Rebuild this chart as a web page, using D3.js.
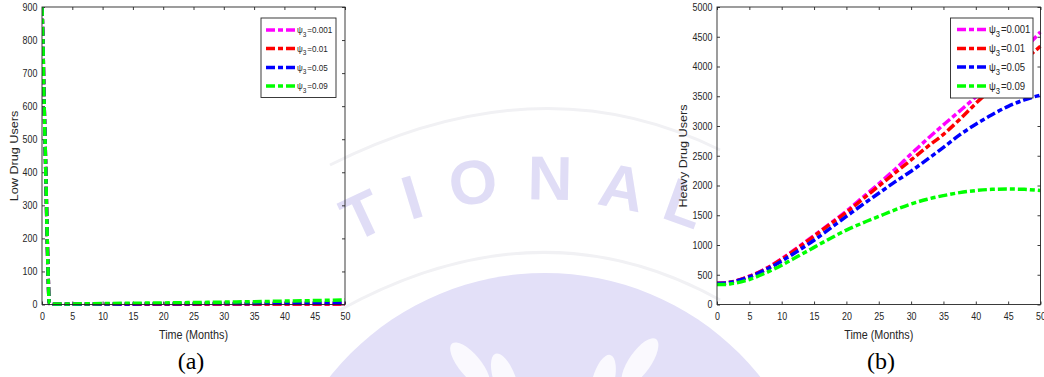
<!DOCTYPE html>
<html>
<head>
<meta charset="utf-8">
<script src="https://cdn.jsdelivr.net/npm/d3@7"></script>
<style>
  html, body { margin: 0; padding: 0; background: #ffffff; }
  svg { display: block; }
</style>
</head>
<body>
<svg id="fig" width="1044" height="377"></svg>
<script>
// ---- series values -------------------------------------------------------
const legendLabels = ["0.001", "0.01", "0.05", "0.09"];
const seriesColors = ["#ff00ff", "#ff0000", "#0000ff", "#00ff00"];

// (a) low drug users
const timeLow = [0, 0.15, 0.3, 0.5, 0.65, 0.8, 1.0, 1.2, 2, 5, 10, 15, 20, 25, 30, 35, 40, 45, 50];
const lowPsi0001 = [900, 800, 650, 500, 380, 250, 100, 3, 0.5, 0.5, 0.5, 0.5, 0.5, 0.5, 0.5, 0.6, 0.6, 0.7, 0.8];
const lowPsi001  = [900, 800, 650, 500, 380, 250, 100, 3, 0.6, 0.7, 0.8, 0.9, 1.0, 1.1, 1.2, 1.3, 1.4, 1.5, 1.6];
const lowPsi005  = [900, 800, 650, 500, 380, 250, 100, 3, 0.8, 1.0, 1.4, 1.8, 2.2, 2.6, 3.0, 3.4, 3.9, 4.4, 5.0];
const lowPsi009  = [900, 800, 650, 500, 380, 250, 100, 3.5, 1.2, 1.8, 2.8, 3.8, 4.8, 5.9, 7.2, 8.6, 10.2, 12, 14];

// (b) heavy drug users
const timeHeavy = [0, 1, 2, 5, 7.5, 10, 12.5, 15, 17.5, 20, 22.5, 25, 27.5, 30, 32.5, 35, 37.5, 40, 42.5, 45, 47.5, 50];
const heavyPsi0001 = [358, 360, 375, 475, 600, 770, 960, 1160, 1360, 1570, 1800, 2030, 2270, 2530, 2780, 3020, 3250, 3490, 3760, 4030, 4300, 4580];
const heavyPsi001  = [356, 358, 374, 472, 595, 760, 950, 1150, 1350, 1550, 1770, 1990, 2210, 2430, 2650, 2860, 3110, 3380, 3630, 3870, 4110, 4340];
const heavyPsi005  = [355, 357, 372, 462, 582, 730, 900, 1080, 1280, 1480, 1680, 1870, 2060, 2240, 2440, 2640, 2850, 3030, 3190, 3330, 3440, 3520];
const heavyPsi009  = [335, 335, 345, 420, 530, 660, 810, 960, 1110, 1250, 1370, 1480, 1590, 1690, 1770, 1830, 1880, 1915, 1935, 1940, 1935, 1915];

// tick values
const timeTicks = [0, 5, 10, 15, 20, 25, 30, 35, 40, 45, 50];
const lowTicks = [0, 100, 200, 300, 400, 500, 600, 700, 800, 900];
const heavyTicks = [0, 500, 1000, 1500, 2000, 2500, 3000, 3500, 4000, 4500, 5000];

// ---- drawing -------------------------------------------------------------
const svg = d3.select("#fig");
const INK = "#262626";
const SANS = "'Liberation Sans', Arial, sans-serif";
const SERIF = "'Liberation Serif', 'Times New Roman', serif";
const SX = 0.87;              // horizontal text compression
const DASH = "9,3,5,3";
const LW = 3.5;
const plain = d3.format("d");

// faint background emblem
const wm = svg.append("g").attr("class", "emblem");
wm.append("circle").attr("cx", 545).attr("cy", 548).attr("r", 275).attr("fill", "#e3e0f8");
[[470, 365, -40], [505, 380, -20], [640, 362, 35], [603, 382, 15]].forEach(([x, y, r]) => {
  wm.append("ellipse").attr("cx", x).attr("cy", y).attr("rx", 11).attr("ry", 28)
    .attr("transform", `rotate(${r},${x},${y})`).attr("fill", "#ffffff").attr("opacity", 0.8);
});
wm.append("path").attr("d", "M 330 165 Q 540 60 720 150").attr("fill", "none")
  .attr("stroke", "#f1f1f4").attr("stroke-width", 3);
wm.append("path").attr("d", "M 340 310 Q 540 200 720 300").attr("fill", "none")
  .attr("stroke", "#f1f1f4").attr("stroke-width", 3);
const emblemLetters = [["T", 362, 215, -25], ["I", 412, 197, -17], ["O", 473, 182, -9],
                       ["N", 550, 178, 1], ["A", 622, 187, 11], ["L", 685, 203, 20]];
emblemLetters.forEach(([ch, x, y, r]) => {
  wm.append("text").text(ch)
    .attr("transform", `translate(${x},${y}) rotate(${r})`)
    .attr("text-anchor", "middle").attr("dy", "0.35em")
    .attr("font-family", SANS).attr("font-weight", "bold").attr("font-size", 62)
    .attr("fill", "#e0ddf6");
});

function panel(cfg) {
  const g = svg.append("g");
  const x = d3.scaleLinear().domain([0, 50]).range([cfg.left, cfg.right]);
  const y = d3.scaleLinear().domain([0, cfg.ymax]).range([cfg.bottom, cfg.top]);

  const styleTicks = sel => {
    sel.select(".domain").remove();
    sel.selectAll(".tick line").attr("stroke", INK).attr("stroke-width", 0.9);
    sel.selectAll(".tick text").attr("fill", INK).attr("font-family", SANS).attr("font-size", 10.2);
  };

  const bottom = g.append("g").attr("transform", `translate(0,${cfg.bottom})`)
    .call(d3.axisBottom(x).tickValues(timeTicks).tickFormat(plain)
      .tickSizeInner(-3).tickSizeOuter(0).tickPadding(8.7));
  styleTicks(bottom);
  bottom.selectAll(".tick text").attr("transform", `scale(${SX},1)`);

  const left = g.append("g").attr("transform", `translate(${cfg.left},0)`)
    .call(d3.axisLeft(y).tickValues(cfg.yticks).tickFormat(plain)
      .tickSizeInner(-3).tickSizeOuter(0).tickPadding(5.4));
  styleTicks(left);
  left.selectAll(".tick text").attr("transform", `scale(${SX},1)`);

  const top = g.append("g").attr("transform", `translate(0,${cfg.top})`)
    .call(d3.axisTop(x).tickValues(timeTicks).tickSizeInner(-3).tickSizeOuter(0).tickFormat(""));
  styleTicks(top);
  const right = g.append("g").attr("transform", `translate(${cfg.right},0)`)
    .call(d3.axisRight(y).tickValues(cfg.yticks).tickSizeInner(-3).tickSizeOuter(0).tickFormat(""));
  styleTicks(right);

  // data curves
  const clipId = "clip" + cfg.id;
  g.append("clipPath").attr("id", clipId).append("rect")
    .attr("x", cfg.left).attr("y", cfg.top - 2)
    .attr("width", cfg.right - cfg.left + 1).attr("height", cfg.bottom - cfg.top + 4);
  const line = d3.line().x((d, i) => x(cfg.time[i])).y(d => y(d)).curve(d3.curveMonotoneX);
  const lines = g.append("g").attr("clip-path", `url(#${clipId})`);
  cfg.series.forEach((vals, k) => {
    lines.append("path").attr("d", line(vals)).attr("fill", "none")
      .attr("stroke", seriesColors[k]).attr("stroke-width", LW)
      .attr("stroke-dasharray", DASH);
  });

  // axes box
  g.append("rect").attr("x", cfg.left).attr("y", cfg.top)
    .attr("width", cfg.right - cfg.left).attr("height", cfg.bottom - cfg.top)
    .attr("fill", "none").attr("stroke", INK).attr("stroke-width", 0.9);

  // axis titles
  g.append("text").text("Time (Months)")
    .attr("transform", `translate(${(cfg.left + cfg.right) / 2},338.5) scale(${SX},1)`)
    .attr("text-anchor", "middle").attr("font-family", SANS).attr("font-size", 12.4).attr("fill", INK);
  g.append("text").text(cfg.ylabel)
    .attr("transform", `translate(${cfg.ylabelX},156) rotate(-90) scale(1.15,1)`)
    .attr("text-anchor", "middle").attr("dy", "0.35em")
    .attr("font-family", SANS).attr("font-size", 11).attr("fill", INK);

  // legend
  const L = cfg.legend;
  const lg = g.append("g");
  lg.append("rect").attr("x", L.x0).attr("y", L.y0).attr("width", L.x1 - L.x0).attr("height", L.y1 - L.y0)
    .attr("fill", "#ffffff").attr("stroke", INK).attr("stroke-width", 0.9);
  legendLabels.forEach((lab, k) => {
    const ry = L.rows[k];
    lg.append("line").attr("x1", L.s0).attr("x2", L.s1).attr("y1", ry).attr("y2", ry)
      .attr("stroke", seriesColors[k]).attr("stroke-width", LW).attr("stroke-dasharray", DASH);
    const t = lg.append("text")
      .attr("transform", `translate(${L.tx},${ry + L.fs * 0.35}) scale(${SX},1)`)
      .attr("font-family", SANS).attr("font-size", L.fs).attr("fill", INK);
    t.append("tspan").text("ψ");
    t.append("tspan").text("3").attr("font-size", L.fs * 0.8).attr("dy", L.fs * 0.35);
    t.append("tspan").text("=" + lab).attr("dy", -L.fs * 0.35).attr("dx", 1);
  });

  // panel tag
  g.append("text").text(cfg.tag).attr("x", cfg.tagX).attr("y", 368.5)
    .attr("text-anchor", "middle").attr("font-family", SERIF).attr("font-size", 24).attr("fill", "#000000");
}

panel({
  id: "a", left: 42, right: 345, top: 7, bottom: 304.5, ymax: 900, yticks: lowTicks,
  time: timeLow, series: [lowPsi0001, lowPsi001, lowPsi005, lowPsi009],
  ylabel: "Low Drug Users", ylabelX: 14, tag: "(a)", tagX: 191,
  legend: { x0: 261, x1: 336, y0: 18, y1: 97.5, rows: [30, 48.5, 67.5, 86],
            s0: 266, s1: 295, tx: 297, fs: 9.3 }
});

panel({
  id: "b", left: 717, right: 1040.5, top: 7, bottom: 304.5, ymax: 5000, yticks: heavyTicks,
  time: timeHeavy, series: [heavyPsi0001, heavyPsi001, heavyPsi005, heavyPsi009],
  ylabel: "Heavy Drug Users", ylabelX: 683, tag: "(b)", tagX: 881,
  legend: { x0: 950.5, x1: 1033, y0: 18, y1: 98, rows: [29.5, 48.5, 67, 86],
            s0: 957, s1: 987, tx: 989, fs: 11 }
});
</script>
</body>
</html>
